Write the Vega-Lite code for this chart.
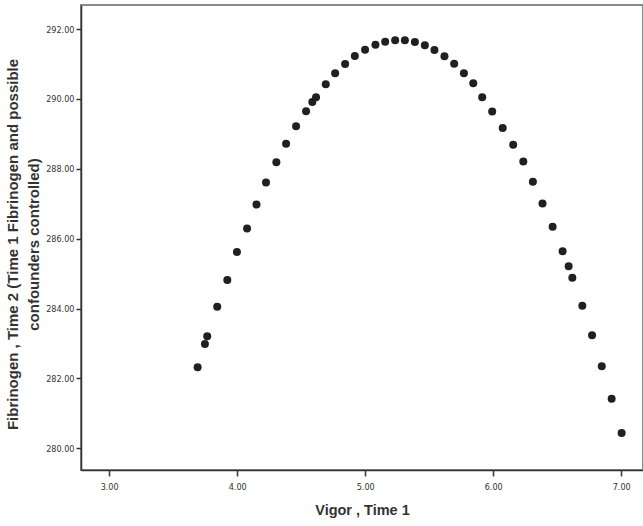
{
  "$schema": "https://vega.github.io/schema/vega-lite/v6.json",
  "autosize": "none",
  "padding": {"left": 81, "top": 5, "right": 0, "bottom": 56},
  "width": 562,
  "height": 465,
  "background": "white",
  "config": {
    "view": {"stroke": "#8a8a8a", "strokeWidth": 2},
    "axis": {
      "domainColor": "#333333",
      "domainWidth": 1.5,
      "tickColor": "#333333",
      "tickWidth": 1.5,
      "tickSize": 6,
      "grid": false,
      "labelFont": "DejaVu Sans Condensed",
      "labelFontSize": 9,
      "labelColor": "#333333",
      "titleFont": "Liberation Sans",
      "titleFontSize": 14.5,
      "titleFontWeight": "bold",
      "titleColor": "#333333"
    }
  },
  "data": {
    "values": [
      {"vigor": 3.691, "fib": 282.32},
      {"vigor": 3.748, "fib": 282.99},
      {"vigor": 3.766, "fib": 283.21},
      {"vigor": 3.844, "fib": 284.05},
      {"vigor": 3.923, "fib": 284.82},
      {"vigor": 3.998, "fib": 285.62},
      {"vigor": 4.077, "fib": 286.29},
      {"vigor": 4.151, "fib": 286.98},
      {"vigor": 4.225, "fib": 287.61},
      {"vigor": 4.306, "fib": 288.19},
      {"vigor": 4.382, "fib": 288.72},
      {"vigor": 4.460, "fib": 289.22},
      {"vigor": 4.538, "fib": 289.65},
      {"vigor": 4.587, "fib": 289.91},
      {"vigor": 4.616, "fib": 290.05},
      {"vigor": 4.692, "fib": 290.42},
      {"vigor": 4.765, "fib": 290.74},
      {"vigor": 4.843, "fib": 291.00},
      {"vigor": 4.919, "fib": 291.23},
      {"vigor": 4.999, "fib": 291.41},
      {"vigor": 5.080, "fib": 291.55},
      {"vigor": 5.156, "fib": 291.64},
      {"vigor": 5.234, "fib": 291.68},
      {"vigor": 5.310, "fib": 291.68},
      {"vigor": 5.388, "fib": 291.63},
      {"vigor": 5.466, "fib": 291.54},
      {"vigor": 5.541, "fib": 291.40},
      {"vigor": 5.619, "fib": 291.22},
      {"vigor": 5.695, "fib": 291.01},
      {"vigor": 5.771, "fib": 290.74},
      {"vigor": 5.844, "fib": 290.45},
      {"vigor": 5.914, "fib": 290.05},
      {"vigor": 5.992, "fib": 289.64},
      {"vigor": 6.074, "fib": 289.17},
      {"vigor": 6.156, "fib": 288.69},
      {"vigor": 6.235, "fib": 288.21},
      {"vigor": 6.310, "fib": 287.63},
      {"vigor": 6.385, "fib": 287.01},
      {"vigor": 6.464, "fib": 286.34},
      {"vigor": 6.542, "fib": 285.64},
      {"vigor": 6.589, "fib": 285.21},
      {"vigor": 6.618, "fib": 284.88},
      {"vigor": 6.696, "fib": 284.08},
      {"vigor": 6.772, "fib": 283.24},
      {"vigor": 6.848, "fib": 282.35},
      {"vigor": 6.925, "fib": 281.42},
      {"vigor": 7.003, "fib": 280.44}
    ]
  },
  "mark": {"type": "point", "filled": true, "size": 64, "color": "#231f20", "opacity": 1},
  "encoding": {
    "x": {
      "field": "vigor",
      "type": "quantitative",
      "scale": {"domain": [2.78, 7.17], "nice": false, "zero": false},
      "axis": {
        "values": [3, 4, 5, 6, 7],
        "format": ".2f",
        "title": "Vigor , Time 1",
        "labelPadding": 6,
        "titlePadding": 12
      }
    },
    "y": {
      "field": "fib",
      "type": "quantitative",
      "scale": {"domain": [279.38, 292.69], "nice": false, "zero": false},
      "axis": {
        "values": [280, 282, 284, 286, 288, 290, 292],
        "format": ".2f",
        "tickSize": 5,
        "labelPadding": 2,
        "title": ["Fibrinogen , Time 2 (Time 1 Fibrinogen and possible", "confounders controlled)"],
        "titleFontSize": 15,
        "titleLineHeight": 21,
        "titlePadding": 4,
        "titleY": 239
      }
    }
  }
}
